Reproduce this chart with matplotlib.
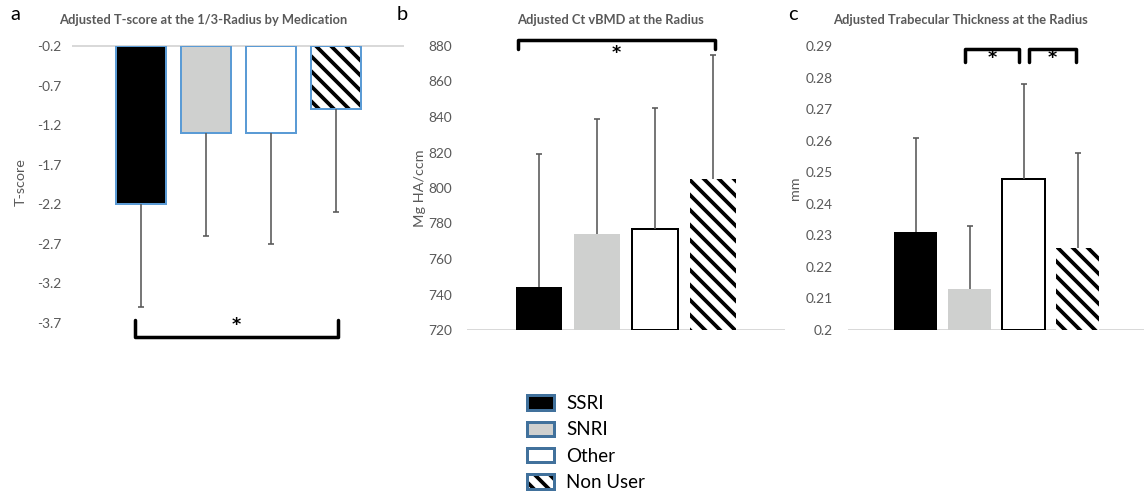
import matplotlib.pyplot as plt
from matplotlib.patches import Patch

# Data
groups = ['SSRI', 'SNRI', 'Other', 'Non User']

tscore = [-2.2, -1.3, -1.3, -1.0]
tscore_err = [1.3, 1.3, 1.4, 1.3]          # lower error only

ctvbmd = [744, 774, 777, 805]
ctvbmd_err = [75, 65, 68, 70]               # upper error only

tbth = [0.231, 0.213, 0.248, 0.226]
tbth_err = [0.030, 0.020, 0.030, 0.030]     # upper error only

TXT = '#595959'
AXC = '#D9D9D9'
BLUE = '#5B9BD5'
GREY = '#CFD0CF'
face = ['black', GREY, 'white', 'white']
hatch = [None, None, None, '\\\\']

W, H, DPI = 1144, 497, 90
plt.rcParams['font.family'] = ['Lato', 'DejaVu Sans']
plt.rcParams['hatch.linewidth'] = 3.0
plt.rcParams['hatch.color'] = 'black'

fig = plt.figure(figsize=(W / DPI, H / DPI), dpi=DPI)


def px_axes(l, r, t, b):
    return fig.add_axes([l / W, 1 - b / H, (r - l) / W, (b - t) / H])


def style(ax, pad):
    for s in ax.spines.values():
        s.set_visible(False)
    ax.tick_params(axis='y', length=0, labelsize=11, labelcolor=TXT, pad=pad)
    ax.set_xticks([])


def draw_err(ax, x, start, end):
    ax.vlines(x, start, end, color=TXT, lw=1.3, zorder=3)
    ax.plot(x, end, ls='none', marker='_', ms=5.5, mew=1.3, color=TXT,
            zorder=3, clip_on=False)


def bracket(ax, x0, x1, y_bar, y_leg, star_y):
    ax.plot([x0, x0, x1, x1], [y_leg, y_bar, y_bar, y_leg], color='black',
            lw=2.8, solid_joinstyle='round', solid_capstyle='round',
            clip_on=False, zorder=4)
    ax.text((x0 + x1) / 2, star_y, '*', ha='center', va='center',
            fontsize=14, fontweight='bold', family='DejaVu Sans',
            clip_on=False)


x = list(range(len(groups)))

# ---- panel a ----
ax = px_axes(73, 403, 46, 323)
style(ax, 9)
base = -0.2
heights = [v - base for v in tscore]
ax.bar(x, heights, bottom=base, width=0.77, color=face, hatch=hatch,
       edgecolor='black', linewidth=0, zorder=2)
ax.bar(x, heights, bottom=base, width=0.77, facecolor='none',
       edgecolor=BLUE, linewidth=1.6, zorder=2.5)
low = [v - e for v, e in zip(tscore, tscore_err)]
draw_err(ax, x, tscore, low)
ax.set_ylim(-3.7, -0.2)
ax.set_yticks([-0.2 - 0.5 * i for i in range(8)])
ax.set_yticklabels([f'{-0.2 - 0.5 * i:.1f}' for i in range(8)])
ax.set_xlim(-1.046, 4.03)
ax.axhline(-0.2, color=AXC, lw=1.6, zorder=1, clip_on=False)
ax.set_ylabel('T-score', fontsize=11.5, color=TXT)
ax.yaxis.set_label_coords(-0.14, 0.51)
bracket(ax, -0.09, 3.03, -3.88, -3.66, -3.72)

# ---- panel b ----
ax = px_axes(467, 785, 46, 330)
style(ax, 12)
ax.bar(x, [v - 720 for v in ctvbmd], bottom=720, width=0.79, color=face,
       hatch=hatch, edgecolor='black', linewidth=0, zorder=2)
ax.bar(x[2], ctvbmd[2] - 720, bottom=720, width=0.79, facecolor='none',
       edgecolor='black', linewidth=1.6, zorder=2.5)
draw_err(ax, x, ctvbmd, [v + e for v, e in zip(ctvbmd, ctvbmd_err)])
ax.set_ylim(720, 880)
ax.set_yticks(range(720, 881, 20))
ax.set_xlim(-1.241, 4.241)
ax.axhline(720, color=AXC, lw=1.6, zorder=1)
ax.set_ylabel('Mg HA/ccm', fontsize=11.5, color=TXT)
ax.yaxis.set_label_coords(-0.13, 0.5)
bracket(ax, -0.36, 3.03, 883.4, 878.3, 876.2)

# ---- panel c ----
ax = px_axes(848, 1144, 46, 330)
style(ax, 12)
ax.bar(x, [v - 0.2 for v in tbth], bottom=0.2, width=0.80, color=face,
       hatch=hatch, edgecolor='black', linewidth=0, zorder=2)
ax.bar(x[2], tbth[2] - 0.2, bottom=0.2, width=0.80, facecolor='none',
       edgecolor='black', linewidth=1.6, zorder=2.5)
draw_err(ax, x, tbth, [v + e for v, e in zip(tbth, tbth_err)])
ax.set_ylim(0.2, 0.29)
ticks_c = [0.2 + 0.01 * i for i in range(10)]
ax.set_yticks(ticks_c)
ax.set_yticklabels(['0.2'] + [f'{t:.2f}' for t in ticks_c[1:]])
ax.set_xlim(-1.25, 4.23)
ax.axhline(0.2, color=AXC, lw=1.6, zorder=1)
ax.set_ylabel('mm', fontsize=11.5, color=TXT)
ax.yaxis.set_label_coords(-0.16, 0.5)
bracket(ax, 0.92, 1.92, 0.2891, 0.2849, 0.2861)
bracket(ax, 2.10, 2.97, 0.2891, 0.2849, 0.2863)

# titles and panel letters
titles = ['Adjusted T-score at the 1/3-Radius by Medication',
          'Adjusted Ct vBMD at the Radius',
          'Adjusted Trabecular Thickness at the Radius']
for cx, t in zip([203, 610, 960], titles):
    fig.text(cx / W, 1 - 20 / H, t, ha='center', va='center', fontsize=10.3,
             fontweight='bold', color=TXT)
for lx, lt in zip([15, 402, 793], ['a', 'b', 'c']):
    fig.text(lx / W, 1 - 15 / H, lt, ha='center', va='center', fontsize=16)

# legend
handles = []
for f, h in zip(face, hatch):
    inner = Patch(facecolor=f, hatch=h, edgecolor='black', linewidth=0)
    outer = Patch(facecolor='none', edgecolor='#41719C', linewidth=2.4)
    handles.append((inner, outer))
fig.legend(handles, groups, loc='upper left',
           bbox_to_anchor=(527 / W, 1 - 395 / H), frameon=False,
           fontsize=15, handlelength=1.45, handleheight=0.8,
           handletextpad=0.65, labelspacing=0.5, borderpad=0,
           borderaxespad=0)

fig.savefig('out.png', dpi=DPI)
